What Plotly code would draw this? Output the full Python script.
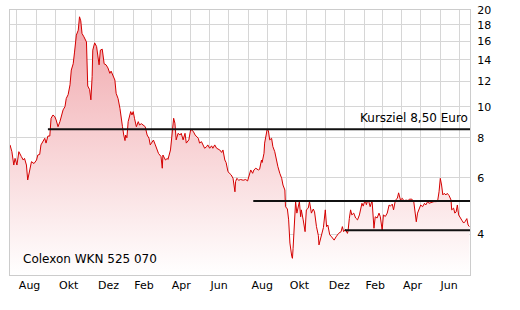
import math
import plotly.graph_objects as go

dates = [
"2007-07-21","2007-07-24","2007-07-27","2007-07-29","2007-08-01","2007-08-04","2007-08-08","2007-08-11","2007-08-13","2007-08-16",
"2007-08-18","2007-08-21","2007-08-24","2007-08-28","2007-09-01","2007-09-03","2007-09-06","2007-09-08","2007-09-11","2007-09-14",
"2007-09-16","2007-09-19","2007-09-22","2007-09-24","2007-09-27","2007-09-30","2007-10-02","2007-10-05","2007-10-08","2007-10-10",
"2007-10-13","2007-10-16","2007-10-18","2007-10-21","2007-10-24","2007-10-26","2007-10-29","2007-10-31","2007-11-03","2007-11-06",
"2007-11-08","2007-11-10","2007-11-12","2007-11-15","2007-11-19","2007-11-21","2007-11-24","2007-11-26","2007-11-28","2007-11-29",
"2007-12-02","2007-12-05","2007-12-07","2007-12-09","2007-12-11","2007-12-14","2007-12-17","2007-12-20","2007-12-23","2007-12-26",
"2007-12-28","2007-12-31","2008-01-03","2008-01-05","2008-01-08","2008-01-11","2008-01-13","2008-01-15","2008-01-17","2008-01-19",
"2008-01-20","2008-01-22","2008-01-24","2008-01-26","2008-01-28","2008-01-30","2008-02-01","2008-02-03","2008-02-06","2008-02-09",
"2008-02-11","2008-02-14","2008-02-17","2008-02-20","2008-02-23","2008-02-26","2008-02-28","2008-03-02","2008-03-04","2008-03-07",
"2008-03-10","2008-03-12","2008-03-16","2008-03-18","2008-03-19","2008-03-23","2008-03-26","2008-03-27","2008-03-31","2008-04-02",
"2008-04-05","2008-04-07","2008-04-09","2008-04-12","2008-04-15","2008-04-17","2008-04-20","2008-04-23","2008-04-25","2008-04-29",
"2008-05-02","2008-05-06","2008-05-09","2008-05-14","2008-05-16","2008-05-19","2008-05-22","2008-05-24","2008-05-27","2008-05-29",
"2008-06-01","2008-06-04","2008-06-06","2008-06-09","2008-06-12","2008-06-14","2008-06-17","2008-06-20","2008-06-22","2008-06-25",
"2008-06-27","2008-06-30","2008-07-03","2008-07-05","2008-07-08","2008-07-11","2008-07-12","2008-07-14","2008-07-17","2008-07-20",
"2008-07-24","2008-07-28","2008-07-31","2008-08-02","2008-08-05","2008-08-08","2008-08-10","2008-08-13","2008-08-17","2008-08-19",
"2008-08-22","2008-08-23","2008-08-26","2008-08-27","2008-08-29","2008-08-31","2008-09-02","2008-09-04","2008-09-07","2008-09-09",
"2008-09-12","2008-09-15","2008-09-17","2008-09-20","2008-09-23","2008-09-25","2008-09-28","2008-09-29","2008-10-02","2008-10-04",
"2008-10-06","2008-10-09","2008-10-10","2008-10-11","2008-10-12","2008-10-14","2008-10-15","2008-10-17","2008-10-19","2008-10-21",
"2008-10-23","2008-10-24","2008-10-27","2008-10-30","2008-11-01","2008-11-04","2008-11-06","2008-11-09","2008-11-12","2008-11-14",
"2008-11-17","2008-11-20","2008-11-21","2008-11-24","2008-11-26","2008-11-28","2008-12-01","2008-12-03","2008-12-05","2008-12-08",
"2008-12-11","2008-12-15","2008-12-18","2008-12-22","2008-12-26","2008-12-28","2008-12-30","2009-01-02","2009-01-05","2009-01-06",
"2009-01-08","2009-01-10","2009-01-12","2009-01-15","2009-01-18","2009-01-21","2009-01-24","2009-01-26","2009-01-28","2009-01-30",
"2009-02-02","2009-02-04","2009-02-06","2009-02-08","2009-02-10","2009-02-13","2009-02-16","2009-02-18","2009-02-21","2009-02-24",
"2009-02-26","2009-03-01","2009-03-03","2009-03-06","2009-03-09","2009-03-12","2009-03-14","2009-03-17","2009-03-19","2009-03-22",
"2009-03-25","2009-03-27","2009-03-30","2009-04-02","2009-04-05","2009-04-07","2009-04-11","2009-04-13","2009-04-17","2009-04-20",
"2009-04-22","2009-04-24","2009-04-26","2009-04-29","2009-05-01","2009-05-04","2009-05-07","2009-05-09","2009-05-12","2009-05-14",
"2009-05-17","2009-05-20","2009-05-22","2009-05-26","2009-05-28","2009-05-30","2009-06-01","2009-06-03","2009-06-05","2009-06-07",
"2009-06-10","2009-06-12","2009-06-15","2009-06-18","2009-06-19","2009-06-22","2009-06-24","2009-06-26","2009-06-28","2009-06-30",
"2009-07-03","2009-07-05","2009-07-08","2009-07-10","2009-07-13","2009-07-15","2009-07-17",
]

prices = [
7.6,7.24,6.58,6.9,6.58,7.24,6.99,6.82,6.9,6.58,
5.91,6.35,6.74,6.65,6.82,7.07,7.1,7.6,7.78,7.97,
7.7,8.1,8.1,9.2,9.42,9.3,9.09,8.66,8.98,9.31,
9.77,10.0,10.6,10.9,11.7,13.0,13.6,14.7,16.7,17.3,
19.05,18.5,16.9,16.5,15.9,11.6,11.3,10.5,12.4,15.0,
15.8,15.4,14.3,13.5,15.0,15.1,13.6,13.5,13.2,12.7,
12.9,12.4,12.1,11.0,10.6,9.88,9.09,8.66,8.16,7.84,
8.16,8.0,8.98,9.31,9.65,9.42,9.65,9.2,8.66,8.98,
8.77,8.85,8.77,8.66,8.16,7.97,7.6,7.78,7.87,7.6,
7.33,7.15,6.99,6.43,7.07,6.82,6.9,6.85,7.33,8.06,
9.2,8.88,7.88,8.26,8.16,8.26,7.88,8.26,7.7,7.88,
8.5,8.38,8.16,7.97,7.7,7.78,7.6,7.42,7.5,7.6,
7.42,7.55,7.42,7.6,7.42,7.38,7.33,7.2,7.33,6.82,
6.7,6.27,6.2,6.13,5.98,5.43,5.84,5.98,5.9,5.93,
5.9,5.93,5.87,6.05,6.35,6.2,6.35,6.43,6.35,6.38,
6.82,6.7,7.16,7.7,8.26,8.5,8.4,7.88,7.97,7.51,
7.24,6.66,6.5,6.2,5.98,5.7,5.5,4.88,4.8,4.44,
3.76,3.41,3.37,3.62,4.03,4.54,5.06,4.66,4.88,5.06,
4.54,4.77,4.44,4.08,4.77,4.83,5.06,4.66,4.8,4.7,
4.23,3.97,3.71,3.9,4.03,4.2,4.77,4.23,4.28,3.99,
3.93,3.84,3.93,4.03,4.08,4.23,4.08,4.15,4.03,4.1,
4.48,4.77,4.6,4.66,4.5,4.44,4.6,4.77,5.0,4.9,
5.12,4.95,5.1,5.05,4.88,5.1,4.18,4.54,4.5,4.66,
4.55,4.13,4.6,4.55,4.66,4.94,4.9,4.97,4.77,5.12,
5.18,5.39,5.12,5.18,5.06,5.12,5.1,5.15,5.15,5.06,
4.66,4.38,4.66,4.88,4.94,4.88,5.0,4.94,5.06,5.0,
5.03,5.06,5.06,5.06,5.12,5.43,5.98,5.7,5.31,5.37,
5.31,5.37,5.28,5.12,4.77,4.83,4.66,4.7,4.94,4.6,
4.48,4.43,4.34,4.38,4.48,4.28,4.23,
]

tick_dates = ["2007-08-21","2007-10-22","2007-12-24","2008-02-18","2008-04-17","2008-06-16",
              "2008-08-23","2008-10-21","2008-12-23","2009-02-18","2009-04-18","2009-06-15"]
tick_labels = ["Aug","Okt","Dez","Feb","Apr","Jun","Aug","Okt","Dez","Feb","Apr","Jun"]

y_ticks = [4, 6, 8, 10, 12, 14, 16, 18, 20]

level_values = [8.5, 5.08, 4.12]
level_starts = ["2007-09-19", "2008-08-09", "2009-01-01"]

x_range = ["2007-07-21", "2009-07-18"]
y_min, y_max = 2.99, 20

title_text = "Colexon WKN 525 070"
target_text = "Kursziel 8,50 Euro"

FONT = "DejaVu Sans"
GRID = "#d6d6d6"

fig = go.Figure()
fig.add_trace(go.Scatter(
    x=dates, y=prices, mode="lines",
    line=dict(color="#d40000", width=1),
    fill="tozeroy",
    fillgradient=dict(type="vertical", start=y_min, stop=y_max,
                      colorscale=[[0, "rgb(255,255,255)"], [1, "rgb(240,163,168)"]]),
    hoverinfo="skip",
))

for v, s in zip(level_values, level_starts):
    fig.add_trace(go.Scatter(
        x=[s, x_range[1]], y=[v, v], mode="lines",
        line=dict(color="#111111", width=2), hoverinfo="skip",
    ))

fig.add_annotation(xref="paper", yref="y", x=1, y=math.log10(level_values[0]),
                   xanchor="right", yanchor="bottom", yshift=2, showarrow=False,
                   text=target_text, font=dict(family=FONT, size=12, color="#000000"))
fig.add_annotation(xref="paper", yref="paper", x=0.024, y=0.06,
                   xanchor="left", yanchor="middle", showarrow=False,
                   text=title_text, font=dict(family=FONT, size=12, color="#000000"))

fig.update_layout(
    width=520, height=310,
    margin=dict(l=10, r=50, t=10, b=35, autoexpand=False),
    paper_bgcolor="white", plot_bgcolor="white",
    showlegend=False,
    font=dict(family=FONT, size=11, color="#000000"),
    xaxis=dict(
        type="date", range=x_range, automargin=False,
        tickvals=tick_dates, ticktext=tick_labels,
        showgrid=False, ticks="",
        showline=True, linecolor="#cccccc", linewidth=1, mirror=True,
        zeroline=False,
        minor=dict(dtick="M1", tick0="2007-08-01", showgrid=True,
                   gridcolor=GRID, gridwidth=1, ticks=""),
    ),
    yaxis=dict(
        type="log", side="right", automargin=False,
        range=[math.log10(y_min), math.log10(y_max)],
        tickvals=y_ticks, ticktext=[str(t) for t in y_ticks],
        showgrid=True, gridcolor=GRID, gridwidth=1, ticks="",
        ticklabelstandoff=4,
        showline=True, linecolor="#cccccc", linewidth=1, mirror=True,
        zeroline=False,
    ),
)

fig.write_html("out.html")
